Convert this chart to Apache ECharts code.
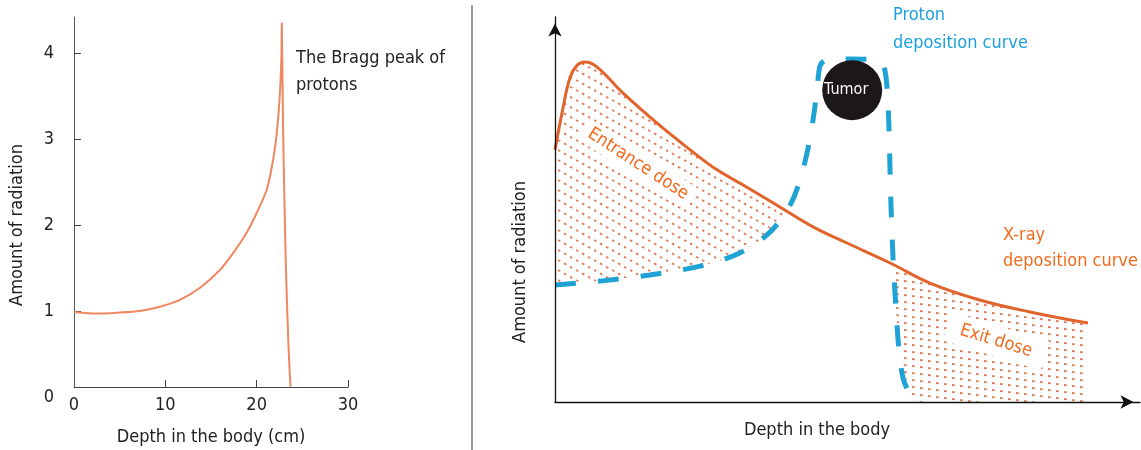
<!DOCTYPE html>
<html>
<head>
<meta charset="utf-8">
<script src="https://cdn.jsdelivr.net/npm/echarts@6/dist/echarts.min.js"></script>
<style>html,body{margin:0;padding:0;background:#fff;}#c{width:1141px;height:450px;}</style>
</head>
<body>
<div id="c"></div>
<script>
// ---- Left panel: Bragg peak (depth in cm, relative dose) ----
const braggDepth = [0, 2.5, 4.7, 7.2, 9.4, 11.6, 13.8, 16.0, 17.4, 18.9, 20.0, 21.1, 21.8, 22.2, 22.5, 22.7, 22.75, 22.9, 23.2, 23.5, 23.7];
const braggDose  = [0.99, 0.97, 0.98, 1.00, 1.05, 1.13, 1.27, 1.48, 1.67, 1.91, 2.14, 2.41, 2.76, 3.07, 3.45, 3.92, 4.35, 3.07, 1.51, 0.55, 0.12];
const leftXTickLabels = [0, 10, 20, 30];
const leftXTicks = [10, 20, 30];
const leftYTickLabels = [0, 1, 2, 3, 4];
const leftYTicks = [1, 2, 3, 4];

// ---- Right panel: schematic curves (arbitrary units 0-100) ----
const xrayDepth = [0, 1.4, 2.6, 3.8, 5.1, 7.2, 11.6, 17.4, 23.1, 27.7, 32.8, 38.5, 44.1, 49.9, 57.3, 64.1, 72.6, 81.2, 91.1];
const xrayDose  = [65.5, 76.6, 84.4, 87.5, 88.3, 87.0, 80.3, 72.5, 65.5, 60.3, 55.8, 50.6, 45.5, 41.3, 36.1, 30.9, 26.5, 23.4, 20.5];
const protonDepth = [0, 7.7, 16.2, 24.8, 31.6, 36.8, 40.2, 41.9, 43.2, 44.1, 44.8, 45.3, 46.3, 50.4, 55.2, 56.2, 56.8, 57.1, 57.4, 57.8, 58.3, 58.8, 59.5, 60.7, 61.7];
const protonDose  = [30.4, 31.4, 33.0, 35.3, 38.7, 44.2, 51.2, 57.7, 65.5, 73.2, 81.0, 87.3, 88.8, 89.1, 88.8, 87.3, 81.0, 70.6, 52.5, 36.9, 23.9, 13.5, 6.2, 1.8, 0];
const tumorPos = [50.8, 81.0];
const entranceEnd = 13;   // x-ray points belonging to the entrance-dose region
const exitStart = 14;     // first x-ray point of the exit-dose region

const FONT = '"DejaVu Sans Condensed", "Noto Sans", sans-serif';
const zip = (a, b) => a.map((v, i) => [v, b[i]]);

function hatch(W, H, on, period, color, lw) {
  const c = document.createElement('canvas');
  c.width = W; c.height = H;
  const ctx = c.getContext('2d');
  ctx.strokeStyle = color; ctx.lineWidth = lw;
  const L = Math.hypot(W, H);
  const n = Math.max(1, Math.round(L / period));
  const p = L / n;
  ctx.setLineDash([on, p - on]);
  for (const k of [-1, 0, 1]) {
    ctx.beginPath(); ctx.moveTo(0, k * H); ctx.lineTo(W, k * H + H); ctx.stroke();
  }
  return c;
}
const hatchEntrance = hatch(18, 10, 2.6, 7, 'rgba(220,108,68,0.9)', 1.8);
const hatchExit = hatch(56, 7, 2.8, 8, 'rgba(220,108,68,0.9)', 1.8);

const chart = echarts.init(document.getElementById('c'), null, {renderer: 'canvas'});
const axisTxt = {color: '#222', fontSize: 18, fontFamily: FONT};

chart.setOption({
  animation: false,
  textStyle: {fontFamily: FONT},
  grid: [
    {left: 74, top: 17, width: 274, height: 380, outerBoundsMode: 'none', containLabel: false},
    {left: 74, top: 17, width: 274, height: 370, outerBoundsMode: 'none', containLabel: false},
    {left: 555, top: 17, width: 585, height: 385, outerBoundsMode: 'none', containLabel: false}
  ],
  xAxis: [
    {gridIndex: 0, type: 'value', min: 0, max: 30, interval: 10, offset: -10,
     name: 'Depth in the body (cm)', nameLocation: 'middle', nameGap: 41,
     nameTextStyle: axisTxt,
     axisLine: {show: true, lineStyle: {color: '#444', width: 1}},
     axisTick: {show: true, inside: true, length: 7, customValues: leftXTicks, lineStyle: {color: '#444'}},
     axisLabel: {show: true, customValues: leftXTickLabels, margin: 9, ...axisTxt},
     splitLine: {show: false}},
    {gridIndex: 1, type: 'value', min: 0, max: 30, show: false},
    {gridIndex: 2, type: 'value', min: 0, max: 100, z: 10,
     axisLine: {show: true, symbol: ['none', 'arrow'], symbolSize: [10, 13], symbolOffset: [0, -6.5],
                lineStyle: {color: '#111', width: 1.3}},
     axisTick: {show: false}, axisLabel: {show: false}, splitLine: {show: false}}
  ],
  yAxis: [
    {gridIndex: 0, type: 'value', min: 0, max: 4.42,
     axisLine: {show: false},
     axisTick: {show: true, inside: true, length: 7, customValues: leftYTicks, lineStyle: {color: '#444'}},
     axisLabel: {show: true, customValues: leftYTickLabels, margin: 20, ...axisTxt},
     splitLine: {show: false}},
    {gridIndex: 1, type: 'value', min: 0, max: 1,
     axisLine: {show: true, lineStyle: {color: '#555', width: 1}},
     axisTick: {show: false}, axisLabel: {show: false}, splitLine: {show: false}},
    {gridIndex: 2, type: 'value', min: 0, max: 100, z: 10,
     axisLine: {show: true, symbol: ['none', 'arrow'], symbolSize: [10, 13], symbolOffset: [0, -6.5],
                lineStyle: {color: '#111', width: 1.3}},
     axisTick: {show: false}, axisLabel: {show: false}, splitLine: {show: false}}
  ],
  series: [
    {type: 'line', name: 'Bragg', xAxisIndex: 0, yAxisIndex: 0, data: zip(braggDepth, braggDose),
     showSymbol: false, smooth: 0.25,
     lineStyle: {color: '#ef8860', width: 2}},
    {type: 'line', name: 'Entrance dose', xAxisIndex: 2, yAxisIndex: 2,
     data: zip(xrayDepth, xrayDose).slice(0, entranceEnd), showSymbol: false, smooth: 0.4, silent: true, z: 1,
     lineStyle: {width: 0}, areaStyle: {color: {image: hatchEntrance, repeat: 'repeat'}, opacity: 1}},
    {type: 'line', name: 'Exit dose', xAxisIndex: 2, yAxisIndex: 2,
     data: zip(xrayDepth, xrayDose).slice(exitStart), showSymbol: false, smooth: 0.4, silent: true, z: 1,
     lineStyle: {width: 0}, areaStyle: {color: {image: hatchExit, repeat: 'repeat'}, opacity: 1}},
    {type: 'line', name: 'Proton mask', xAxisIndex: 2, yAxisIndex: 2,
     data: zip(protonDepth, protonDose), showSymbol: false, smooth: 0.3, silent: true, z: 2,
     lineStyle: {width: 0}, areaStyle: {color: '#ffffff', opacity: 1}},
    {type: 'line', name: 'X-ray', xAxisIndex: 2, yAxisIndex: 2, data: zip(xrayDepth, xrayDose),
     showSymbol: false, smooth: 0.4, z: 3,
     lineStyle: {color: '#e0642c', width: 3}},
    {type: 'line', name: 'Proton', xAxisIndex: 2, yAxisIndex: 2, data: zip(protonDepth, protonDose),
     showSymbol: false, smooth: 0.3, z: 4,
     lineStyle: {color: '#1fa3d4', width: 5, type: [21, 22], cap: 'butt'}},
    {type: 'scatter', name: 'Tumor', xAxisIndex: 2, yAxisIndex: 2, data: [tumorPos],
     symbol: 'circle', symbolSize: 60, z: 5,
     itemStyle: {color: '#1c1818', opacity: 1},
     label: {show: true, position: 'inside', formatter: 'Tumor', color: '#ffffff', fontSize: 16, offset: [-6, 0], fontFamily: FONT}}
  ],
  graphic: [
    {type: 'line', shape: {x1: 472, y1: 5, x2: 472, y2: 450}, style: {stroke: '#777', lineWidth: 1.5}, silent: true},
    {type: 'text', x: 17, y: 225, rotation: Math.PI / 2,
     style: {text: 'Amount of radiation', fill: '#222', fontSize: 18, fontFamily: FONT, align: 'center', verticalAlign: 'middle'}},
    {type: 'text', x: 296, y: 45,
     style: {text: 'The Bragg peak of\nprotons', fill: '#222', fontSize: 18, fontFamily: FONT, lineHeight: 27, align: 'left', verticalAlign: 'top'}},
    {type: 'text', x: 520, y: 262, rotation: Math.PI / 2,
     style: {text: 'Amount of radiation', fill: '#222', fontSize: 18, fontFamily: FONT, align: 'center', verticalAlign: 'middle'}},
    {type: 'text', x: 817, y: 430,
     style: {text: 'Depth in the body', fill: '#222', fontSize: 18, fontFamily: FONT, align: 'center', verticalAlign: 'middle'}},
    {type: 'text', x: 893, y: 1, z: 20,
     style: {text: 'Proton\ndeposition curve', fill: '#1ba1de', fontSize: 18, fontFamily: FONT, lineHeight: 28, align: 'left', verticalAlign: 'top'}},
    {type: 'text', x: 1003, y: 222, z: 20,
     style: {text: 'X-ray\ndeposition curve', fill: '#f26b1d', fontSize: 18, fontFamily: FONT, lineHeight: 26, align: 'left', verticalAlign: 'top'}},
    {type: 'text', x: 638, y: 164, rotation: -33 * Math.PI / 180, z: 20,
     style: {text: 'Entrance dose', fill: '#f26b1d', fontSize: 18, fontFamily: FONT, align: 'center', verticalAlign: 'middle',
             backgroundColor: '#fff', padding: [3, 6]}},
    {type: 'text', x: 996, y: 341, rotation: -17 * Math.PI / 180, z: 20,
     style: {text: 'Exit dose', fill: '#f26b1d', fontSize: 18, fontFamily: FONT, align: 'center', verticalAlign: 'middle',
             backgroundColor: '#fff', padding: [6, 14]}}
  ]
});
</script>
</body>
</html>
